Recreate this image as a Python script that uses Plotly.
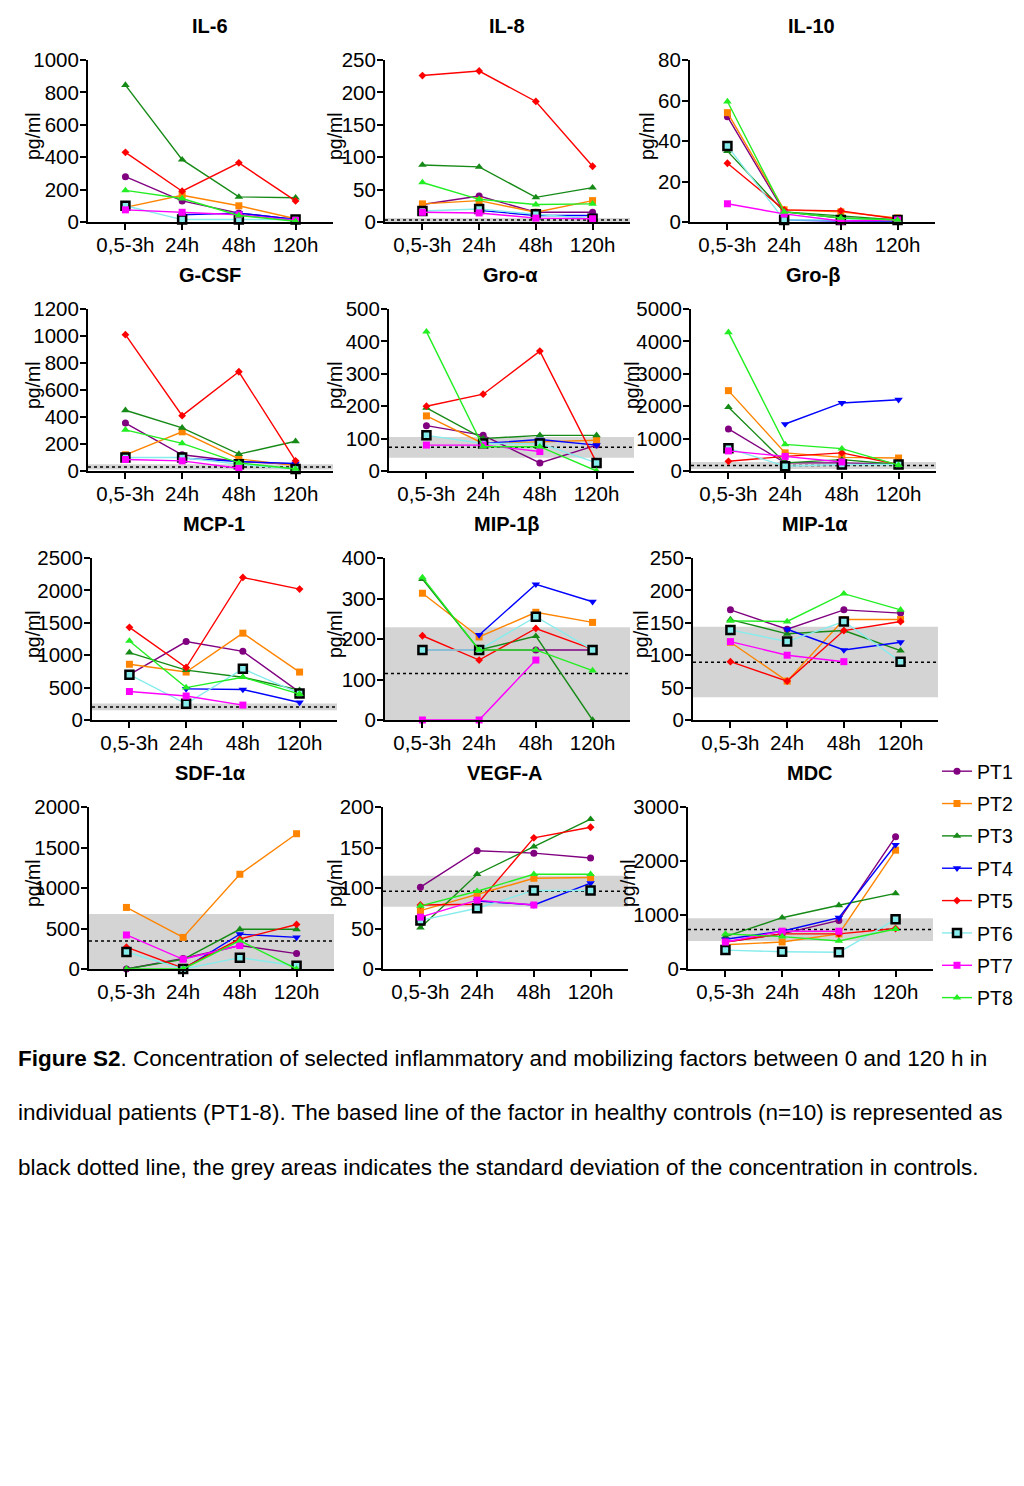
import plotly.graph_objects as go

N = None
times = ["0,5-3h", "24h", "48h", "120h"]
patients = ["PT1", "PT2", "PT3", "PT4", "PT5", "PT6", "PT7", "PT8"]

# values per patient (PT1..PT8), one list per time point
il6 = [[280, 130, 55, 15], [90, 165, 100, 20], [845, 385, 155, 150], [N, 45, 55, 15],
       [430, 190, 365, 130], [100, 15, 15, 15], [75, 60, 45, 10], [195, 145, 40, 5]]
il8 = [[27, 40, 15, 15], [28, 33, 15, 33], [88, 85, 38, 53], [N, 18, 10, 10],
       [226, 233, 186, 86], [17, 20, 12, 5], [15, 14, 6, 5], [61, 35, 27, 28]]
il10 = [[52, 5, 2, 1], [54, 6, 5, 2], [35, 5, 3, 1], [N, 1, 0.5, 0.5],
        [29, 6, 5.5, 1.5], [37.5, 1, 1, 1], [9, 4, 0.5, 1], [59.5, 5, 2, 1]]
gcsf = [[355, 120, 70, 50], [120, 290, 90, 40], [450, 320, 125, 220], [N, 95, 70, 55],
        [1010, 410, 735, 75], [100, 100, 50, 15], [85, 75, 20, N], [305, 205, 60, 15]]
groa = [[140, 110, 25, 80], [170, 85, 90, 95], [195, 100, 110, 110], [N, 85, 97, 80],
        [200, 237, 370, 26], [110, 85, 85, 25], [80, 80, 60, N], [430, 75, 75, 0]]
grob = [[1300, 250, 250, 200], [2480, 560, 420, 400], [1970, 250, 350, 200], [N, 1450, 2100, 2200],
        [300, 450, 560, 200], [700, 150, 200, 200], [620, 450, 280, N], [4280, 820, 690, 180]]
mcp1 = [[700, 1210, 1060, 430], [860, 740, 1340, 740], [1040, 770, 660, 460], [N, 480, 470, 270],
        [1430, 810, 2200, 2020], [700, 250, 790, 410], [440, 370, 230, N], [1220, 500, 660, 400]]
mip1b = [[173, 173, 173, 173], [313, 205, 266, 241], [348, 173, 207, 0], [N, 210, 335, 292],
         [208, 148, 226, 175], [173, 173, 255, 173], [0, 0, 148, N], [352, 173, 173, 122]]
mip1a = [[170, 140, 170, 165], [120, 60, 155, 155], [155, 133, 138, 107], [N, 140, 108, 120],
         [90, 60, 138, 152], [139, 121, 152, 90], [121, 100, 90, N], [153, 152, 195, 170]]
sdf1a = [[0, 130, 290, 190], [760, 390, 1170, 1670], [0, 120, 490, 490], [N, 0, 430, 390],
         [270, 10, 370, 550], [210, 0, 140, 40], [420, 120, 290, N], [0, 0, 350, 0]]
vegfa = [[101, 146, 143, 137], [72, 92, 112, 113], [51, 117, 151, 185], [N, 84, 79, 106],
         [79, 80, 162, 175], [60, 75, 97, 97], [64, 85, 79, N], [78, 96, 117, 117]]
mdc = [[500, 650, 900, 2450], [450, 500, 650, 2200], [600, 950, 1180, 1400], [550, 700, 950, 2300],
       [500, 650, 650, 750], [350, 320, 310, 920], [500, 700, 700, N], [650, 600, 520, 740]]

titles = ["IL-6", "IL-8", "IL-10", "G-CSF", "Gro-α", "Gro-β",
          "MCP-1", "MIP-1β", "MIP-1α", "SDF-1α", "VEGF-A", "MDC"]
values = [il6, il8, il10, gcsf, groa, grob, mcp1, mip1b, mip1a, sdf1a, vegfa, mdc]
ymax = [1000, 250, 80, 1200, 500, 5000, 2500, 400, 250, 2000, 200, 3000]
ystep = [200, 50, 20, 200, 100, 1000, 500, 100, 50, 500, 50, 1000]

# healthy controls: mean (dotted line) and +/- SD (grey area)
ctrl_mean = [N, 3, N, 30, 73, 170, 200, 115, 89, 346, 96, 730]
ctrl_lo = [N, 0, N, 12, 41, 60, 150, 0, 35, 0, 77, 520]
ctrl_hi = [N, 6, N, 50, 105, 280, 255, 229, 144, 679, 115, 940]

colors = ["#800080", "#ff8400", "#168a16", "#0000ff", "#ff0000", "#86ecec", "#ff00ff", "#22ee22"]
symbols = ["circle", "square", "triangle-up", "triangle-down", "diamond", "square", "square", "triangle-up"]
msizes = [7, 7, 7.5, 7.5, 6, 8, 7, 7.5]

# page has an 8px body margin, so the figure is sized and positioned to compensate
OFF = 8
W, H = 1024 - 2 * OFF, 1486 - 2 * OFF


def fx(px):
    return (px - OFF) / W


def fy(py):
    return 1 - (py - OFF) / H


lefts = [88, 385, 690, 88, 389, 691, 92, 385, 693, 89, 383, 688]
lab_xs = [33, 335, 647, 33, 335, 632, 33, 335, 641, 33, 335, 628]
tops = [60, 309, 558, 807]
PW, PH = 245, 162
FONT = "Liberation Sans, Arial, sans-serif"

fig = go.Figure()
annotations = []
shapes = []

for k in range(12):
    n = k + 1
    xa = "x" if n == 1 else f"x{n}"
    ya = "y" if n == 1 else f"y{n}"
    row, col = divmod(k, 3)
    x0 = lefts[k]
    y0 = tops[row]
    for p in range(8):
        mk = dict(symbol=symbols[p], size=msizes[p], color=colors[p])
        if p == 5:
            mk["line"] = dict(color="black", width=2.5)
        fig.add_trace(go.Scatter(
            x=times, y=values[k][p], name=patients[p], xaxis=xa, yaxis=ya,
            mode="lines+markers", line=dict(color=colors[p], width=1.4),
            marker=mk, cliponaxis=False, legendgroup=patients[p],
            showlegend=(k == 0)))
    axis_common = dict(showline=True, linecolor="black", linewidth=2, ticks="outside",
                       ticklen=6, tickwidth=2, tickcolor="black", showgrid=False,
                       zeroline=False, automargin=False, ticklabelstandoff=-3,
                       tickfont=dict(family=FONT, size=20.5, color="black"))
    fig.layout[f"xaxis{n}"] = dict(domain=[fx(x0), fx(x0 + PW)], anchor=ya,
                                   type="category", categoryarray=times,
                                   range=[-0.66, 3.66], **axis_common)
    fig.layout[f"yaxis{n}"] = dict(domain=[fy(y0 + PH), fy(y0)], anchor=xa,
                                   range=[0, ymax[k]], dtick=ystep[k], **axis_common)
    annotations.append(dict(text=f"<b>{titles[k]}</b>", x=fx(x0 + PW / 2 - 1), y=fy(y0 - 34),
                            xref="paper", yref="paper", xanchor="center", yanchor="middle",
                            showarrow=False, font=dict(family=FONT, size=20, color="black")))
    annotations.append(dict(text="pg/ml", textangle=-90, x=fx(lab_xs[k]), y=fy(y0 + PH / 2 - 5),
                            xref="paper", yref="paper", xanchor="center", yanchor="middle",
                            showarrow=False, font=dict(family=FONT, size=19.5, color="black")))
    if ctrl_mean[k] is not None:
        shapes.append(dict(type="rect", xref=f"{xa} domain", yref=ya, x0=0, x1=1,
                           y0=ctrl_lo[k], y1=ctrl_hi[k], fillcolor="#d4d4d4",
                           line=dict(width=0), layer="below"))
        shapes.append(dict(type="line", xref=f"{xa} domain", yref=ya, x0=0, x1=1,
                           y0=ctrl_mean[k], y1=ctrl_mean[k],
                           line=dict(color="black", width=1.5, dash="dot"), layer="below"))

caption = [
    "<b>Figure S2</b>. Concentration of selected inflammatory and mobilizing factors between 0 and 120 h in",
    "individual patients (PT1-8). The based line of the factor in healthy controls (n=10) is represented as",
    "black dotted line, the grey areas indicates the standard deviation of the concentration in controls.",
]
for i, line in enumerate(caption):
    annotations.append(dict(text=line, x=fx(16), y=fy(1058 + 54.5 * i), xref="paper", yref="paper",
                            xanchor="left", yanchor="middle", showarrow=False,
                            font=dict(family=FONT, size=22.5, color="black")))

fig.update_layout(
    width=W, height=H, margin=dict(l=0, r=0, t=0, b=0, autoexpand=False),
    paper_bgcolor="white", plot_bgcolor="white",
    annotations=annotations, shapes=shapes,
    legend=dict(x=fx(937), y=fy(752), xanchor="left", yanchor="top",
                font=dict(family=FONT, size=19.5, color="black"),
                tracegroupgap=4, bgcolor="rgba(0,0,0,0)"),
)

fig.write_html("out.html")
